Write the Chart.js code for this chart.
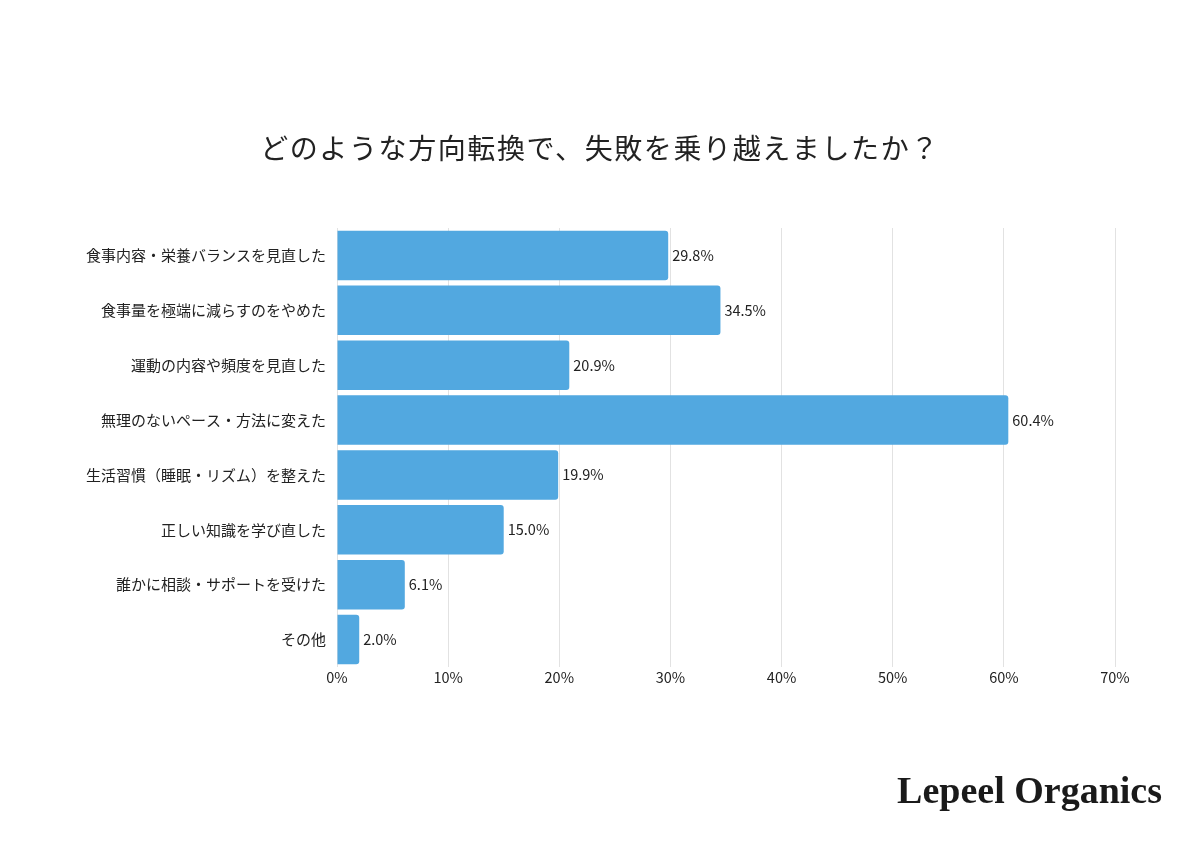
<!DOCTYPE html>
<html>
<head>
<meta charset="utf-8">
<script src="https://cdn.jsdelivr.net/npm/chart.js@4.4.1/dist/chart.umd.min.js"></script>
<style>
  html, body { margin: 0; padding: 0; background: #fff; }
  .wrap { position: relative; width: 1200px; height: 848px; }
  canvas { position: absolute; left: 0; top: 0; }
  .title {
    position: absolute; left: 0; width: 1200px; top: 127px;
    text-align: center; font-family: "Noto Sans CJK JP", sans-serif;
    font-size: 28px; color: #222; letter-spacing: 1.6px;
  }
  .logo {
    position: absolute; right: 38px; top: 768px;
    font-family: "Liberation Serif", "DejaVu Serif", serif;
    font-weight: bold; font-size: 38px; color: #1a1a1a;
  }
</style>
</head>
<body>
<div class="wrap">
  <canvas id="chart" width="1200" height="848"></canvas>
  <div class="title">どのような方向転換で、失敗を乗り越えましたか？</div>
  <div class="logo">Lepeel Organics</div>
</div>
<script>
  // Data
  const categories = [
    '食事内容・栄養バランスを見直した',
    '食事量を極端に減らすのをやめた',
    '運動の内容や頻度を見直した',
    '無理のないペース・方法に変えた',
    '生活習慣（睡眠・リズム）を整えた',
    '正しい知識を学び直した',
    '誰かに相談・サポートを受けた',
    'その他'
  ];
  const percentages = [29.8, 34.5, 20.9, 60.4, 19.9, 15.0, 6.1, 2.0];
  const xTicks = [0, 10, 20, 30, 40, 50, 60, 70];

  const colors = {
    bar: '#52a8e0',
    text: '#222222',
    grid: '#e2e2e2'
  };
  const font = '"Noto Sans CJK JP", "Noto Sans", sans-serif';

  // value labels at the end of each bar
  const valueLabels = {
    id: 'valueLabels',
    afterDatasetsDraw(chart) {
      const ctx = chart.ctx;
      const meta = chart.getDatasetMeta(0);
      ctx.save();
      ctx.font = '14.5px ' + font;
      ctx.fillStyle = colors.text;
      ctx.textAlign = 'left';
      ctx.textBaseline = 'middle';
      meta.data.forEach((bar, i) => {
        ctx.fillText(percentages[i].toFixed(1) + '%', bar.x + 4, bar.y);
      });
      ctx.restore();
    }
  };

  new Chart(document.getElementById('chart'), {
    type: 'bar',
    data: {
      labels: categories,
      datasets: [{
        data: percentages,
        backgroundColor: colors.bar,
        borderRadius: { topRight: 3, bottomRight: 3 },
        borderSkipped: 'start',
        barPercentage: 0.9,
        categoryPercentage: 1.0
      }]
    },
    options: {
      indexAxis: 'y',
      responsive: false,
      animation: false,
      layout: {
        padding: { left: 0, right: 85, top: 228, bottom: 151 }
      },
      plugins: {
        legend: { display: false },
        tooltip: { enabled: false }
      },
      scales: {
        x: {
          min: 0,
          max: 70,
          afterBuildTicks(scale) {
            scale.ticks = xTicks.map(v => ({ value: v }));
          },
          afterFit(scale) { scale.height = 30; },
          border: { display: false },
          grid: { color: colors.grid, drawTicks: false },
          ticks: {
            padding: 2,
            color: colors.text,
            font: { size: 14.5, family: font },
            callback: v => v + '%'
          }
        },
        y: {
          afterFit(scale) { scale.width = 337; },
          border: { display: false },
          grid: { display: false, drawTicks: false },
          ticks: {
            padding: 11,
            color: colors.text,
            font: { size: 15, family: font }
          }
        }
      }
    },
    plugins: [valueLabels]
  });
</script>
</body>
</html>
